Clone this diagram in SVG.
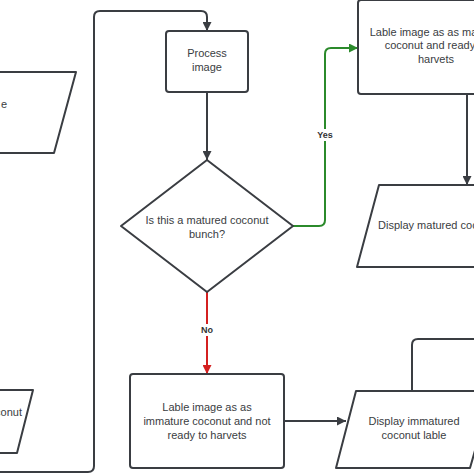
<svg xmlns="http://www.w3.org/2000/svg" width="474" height="474" viewBox="0 0 474 474">
<defs>
<style>
.shape{fill:#ffffff;stroke:#3a3d42;stroke-width:2;stroke-linejoin:round}
.lbl{font-family:"Liberation Sans",Arial,sans-serif;font-size:11px;fill:#3a3d42;text-anchor:middle}
.edge{fill:none;stroke:#3a3d42;stroke-width:2}
.yes{fill:none;stroke:#2b8a2b;stroke-width:2}
.no{fill:none;stroke:#d42020;stroke-width:2}
.elbl{font-family:"Liberation Sans",Arial,sans-serif;font-size:9px;font-weight:bold;fill:#333333;text-anchor:middle}
</style>
<marker id="ah" viewBox="0 0 10 10" refX="10" refY="5" markerWidth="9" markerHeight="9" markerUnits="userSpaceOnUse" orient="auto"><path d="M0,0 L10,5 L0,10 z" fill="#3a3d42"/></marker>
<marker id="ahg" viewBox="0 0 10 10" refX="10" refY="5" markerWidth="9" markerHeight="9" markerUnits="userSpaceOnUse" orient="auto"><path d="M0,0 L10,5 L0,10 z" fill="#2b8a2b"/></marker>
<marker id="ahr" viewBox="0 0 10 10" refX="10" refY="5" markerWidth="9" markerHeight="9" markerUnits="userSpaceOnUse" orient="auto"><path d="M0,0 L10,5 L0,10 z" fill="#d42020"/></marker>
</defs>
<rect width="474" height="474" fill="#ffffff"/>

<g id="connectors">
<path class="edge" d="M -5 472 H 88 Q 94 472 94 466 V 17 Q 94 11 100 11 H 201 Q 207 11 207 17 V 31" marker-end="url(#ah)"/>
<path class="edge" d="M 207 92 V 160" marker-end="url(#ah)"/>
<path class="yes" d="M 293 226 H 319 Q 325 226 325 220 V 54 Q 325 48 331 48 H 358" marker-end="url(#ahg)"/>
<rect x="314" y="129" width="22" height="12" fill="#ffffff"/>
<text class="elbl" x="325" y="138">Yes</text>
<path class="no" d="M 207 292 V 374" marker-end="url(#ahr)"/>
<rect x="198" y="324" width="18" height="12" fill="#ffffff"/>
<text class="elbl" x="207" y="333">No</text>
<path class="edge" d="M 467 94 V 185" marker-end="url(#ah)"/>
<path class="edge" d="M 284 421 H 346" marker-end="url(#ah)"/>
<path class="edge" d="M 412 391 V 345 Q 412 339 418 339 H 480"/>
</g>

<g id="node-left-top">
<polygon class="shape" points="-80,72 76,72 54,153 -100,153"/>
<text class="lbl" x="7" y="108" style="text-anchor:end">e</text>
</g>

<g id="node-left-bottom">
<polygon class="shape" points="-100,390 33,390 17,453 -120,453"/>
<text class="lbl" x="22" y="416" style="text-anchor:end">coconut</text>
</g>

<g id="node-process">
<rect class="shape" x="166" y="31" width="82" height="61" rx="3"/>
<text class="lbl" x="207" y="57">Process</text>
<text class="lbl" x="207" y="71">image</text>
</g>

<g id="node-decision">
<polygon class="shape" points="207,160 293,226 207,292 121,226"/>
<text class="lbl" x="207" y="224">Is this a matured coconut</text>
<text class="lbl" x="207" y="238">bunch?</text>
</g>

<g id="node-label-matured">
<rect class="shape" x="358" y="0" width="160" height="94" rx="3"/>
<text class="lbl" x="436" y="36">Lable image as as matured</text>
<text class="lbl" x="436" y="49">coconut and ready to</text>
<text class="lbl" x="436" y="63">harvets</text>
</g>

<g id="node-display-matured">
<polygon class="shape" points="379,185 530,185 508,267 357,267"/>
<text class="lbl" x="378" y="229" style="text-anchor:start">Display matured coconut lable</text>
</g>

<g id="node-label-immature">
<rect class="shape" x="130" y="374" width="154" height="94" rx="3"/>
<text class="lbl" x="207" y="411">Lable image as as</text>
<text class="lbl" x="207" y="425">immature coconut and not</text>
<text class="lbl" x="207" y="439">ready to harvets</text>
</g>

<g id="node-display-immature">
<polygon class="shape" points="356,391 492,391 470,468 336,468"/>
<text class="lbl" x="414" y="425">Display immatured</text>
<text class="lbl" x="414" y="439">coconut lable</text>
</g>
</svg>
